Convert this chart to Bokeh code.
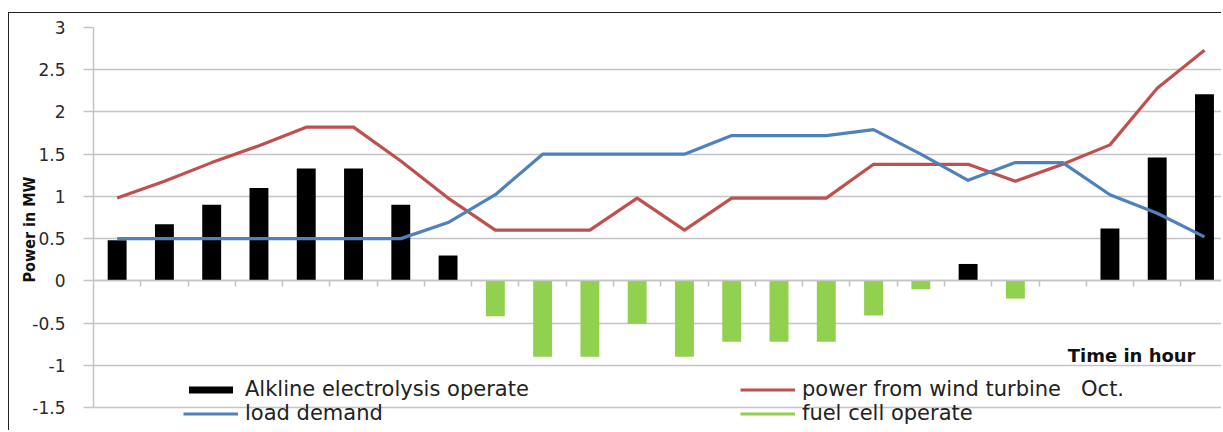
from bokeh.plotting import figure
from bokeh.models import Range1d, FixedTicker, Legend, LegendItem, Label, LinearAxis
from bokeh.embed import file_html
from bokeh.resources import INLINE

# ---- data ----
hours = list(range(1, 25))
electrolysis = [0.48, 0.67, 0.90, 1.10, 1.33, 1.33, 0.90, 0.30,
                0, 0, 0, 0, 0, 0, 0, 0, 0, 0,
                0.20, 0, 0, 0.62, 1.46, 2.21]
fuel_cell = [0, 0, 0, 0, 0, 0, 0, 0,
             -0.42, -0.90, -0.90, -0.51, -0.90, -0.72, -0.72, -0.72, -0.41, -0.10,
             0, -0.21, 0, 0, 0, 0]
wind = [0.98, 1.18, 1.40, 1.60, 1.82, 1.82, 1.42, 0.98, 0.60, 0.60, 0.60, 0.98,
        0.60, 0.98, 0.98, 0.98, 1.38, 1.38, 1.38, 1.18, 1.38, 1.61, 2.28, 2.73]
load = [0.50, 0.50, 0.50, 0.50, 0.50, 0.50, 0.50, 0.69, 1.02, 1.50, 1.50, 1.50,
        1.50, 1.72, 1.72, 1.72, 1.79, 1.50, 1.19, 1.40, 1.40, 1.02, 0.80, 0.52]
y_ticks = [-1.5, -1, -0.5, 0, 0.5, 1, 1.5, 2, 2.5, 3]

RED = "#c0504d"
BLUE = "#4f81bd"
GREEN = "#92d050"
GRID = "#c4c4c4"

p = figure(width=1213, height=418, output_backend="svg", toolbar_location=None,
           x_axis_location=None,
           x_range=Range1d(0.5, 24.36), y_range=Range1d(-1.784, y_ticks[-1]),
           min_border_left=84, min_border_right=1, min_border_top=14, min_border_bottom=0)
p.outline_line_color = None
p.background_fill_color = "white"
p.border_fill_color = "white"
# outer chart frame: left and top edges
p.styles = {"margin-left": "8px", "margin-top": "12px",
            "border-left": "1.5px solid #222222", "border-top": "1.5px solid #222222"}

# y axis
yt = FixedTicker(ticks=y_ticks)
p.yaxis.ticker = yt
p.yaxis.bounds = (y_ticks[0], y_ticks[-1])
p.yaxis.major_label_overrides = {t: f"{t:g}" for t in y_ticks}
p.yaxis.axis_line_color = GRID
p.yaxis.axis_line_width = 1.5
p.yaxis.major_tick_out = 10
p.yaxis.major_tick_in = 0
p.yaxis.major_tick_line_color = GRID
p.yaxis.major_tick_line_width = 1.5
p.yaxis.minor_tick_line_color = None
p.yaxis.major_label_standoff = 18
p.yaxis.major_label_text_font = "DejaVu Sans"
p.yaxis.major_label_text_font_size = "17px"
p.yaxis.major_label_text_color = "#2a2a2a"
p.yaxis.axis_label = "Power in MW"
p.yaxis.axis_label_text_font = "DejaVu Sans Condensed"
p.yaxis.axis_label_text_font_style = "bold"
p.yaxis.axis_label_text_font_size = "16px"
p.yaxis.axis_label_text_color = "#111111"
p.yaxis.axis_label_standoff = -10

p.ygrid.ticker = yt
p.ygrid.grid_line_color = GRID
p.ygrid.grid_line_width = 1.5
p.xgrid.visible = False

# x axis drawn on the zero line, ticks between hours pointing down
xa = LinearAxis(fixed_location=0, ticker=FixedTicker(ticks=[h + 0.5 for h in hours[:-1]]),
                axis_line_color=GRID, axis_line_width=1.5,
                major_tick_out=0, major_tick_in=6,
                major_tick_line_color=GRID, major_tick_line_width=1.5,
                minor_tick_line_color=None, major_label_text_alpha=0,
                major_label_text_font_size="1px", major_label_standoff=0)
p.add_layout(xa, "above")

# bars
r_el = p.vbar(x=hours, top=electrolysis, width=0.4, fill_color="black", line_color=None)
r_fc = p.vbar(x=hours, top=fuel_cell, width=0.4, fill_color=GREEN, line_color=None)

# lines
r_wind = p.line(hours, wind, line_color=RED, line_width=3.2, line_join="round")
r_load = p.line(hours, load, line_color=BLUE, line_width=3.2, line_join="round")
# line-styled legend key for the fuel cell series (as in the original legend)
r_fc_key = p.line(hours, fuel_cell, line_color=GREEN, line_width=3.2, visible=False)

common = dict(orientation="vertical", background_fill_alpha=0, border_line_alpha=0,
              padding=0, margin=0, spacing=0, glyph_width=55, glyph_height=9,
              label_height=20, label_standoff=7, label_text_font="DejaVu Sans",
              label_text_font_size="21px", label_text_color="#222222",
              label_text_baseline="middle")
leg_left = Legend(items=[LegendItem(label="Alkline electrolysis operate", renderers=[r_el]),
                         LegendItem(label="load demand", renderers=[r_load])],
                  location=(90, 6), **common)
leg_right = Legend(items=[LegendItem(label="power from wind turbine   Oct.", renderers=[r_wind]),
                          LegendItem(label="fuel cell operate", renderers=[r_fc_key])],
                   location=(647, 6), **common)
p.add_layout(leg_left)
p.add_layout(leg_right)

p.add_layout(Label(x=1102, y=76, x_units="screen", y_units="screen", text="Time in hour",
                   text_align="right", text_baseline="middle", text_font="DejaVu Sans",
                   text_font_style="bold", text_font_size="18px", text_color="#111111"))

open("out.html", "w").write(file_html(p, INLINE))
